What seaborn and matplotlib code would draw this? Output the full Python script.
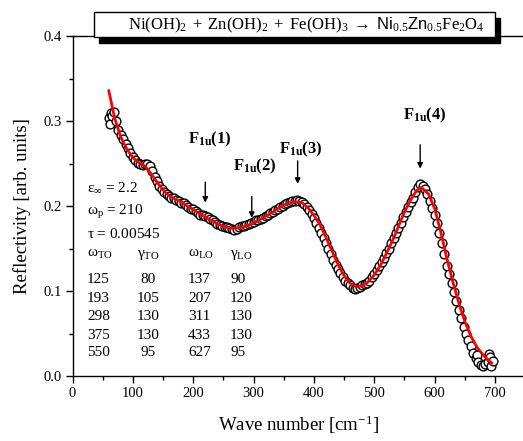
import matplotlib
matplotlib.use("Agg")
import matplotlib.pyplot as plt
from matplotlib.patches import Rectangle
import seaborn as sns
import pandas as pd

# Measured reflectivity spectrum
wavenumber = [
    60, 62, 64, 66, 68, 72, 76, 80, 84, 88, 92, 96, 100, 104, 108, 112, 116, 120,
    124, 128, 132, 136, 140, 144, 148, 152, 156, 160, 164, 168, 172, 176, 180,
    184, 188, 192, 196, 200, 204, 208, 212, 216, 220, 224, 228, 232, 236, 240,
    244, 248, 252, 256, 260, 264, 268, 272, 276, 280, 284, 288, 292, 296, 300,
    304, 308, 312, 316, 320, 324, 328, 332, 336, 340, 344, 348, 352, 356, 360,
    364, 368, 372, 376, 380, 384, 388, 392, 396, 400, 404, 408, 412, 416, 420,
    424, 428, 432, 436, 440, 444, 448, 452, 456, 460, 464, 468, 472, 476, 480,
    484, 488, 492, 496, 500, 504, 508, 512, 516, 520, 524, 528, 532, 536, 540,
    544, 548, 552, 556, 560, 564, 568, 572, 576, 580, 584, 588, 592, 596, 600,
    604, 608, 612, 616, 620, 624, 628, 632, 636, 640, 644, 648, 652, 656, 660,
    664, 668, 670, 672, 676, 680, 684, 688, 690, 692, 694, 696,
]
reflectivity = [
    0.303, 0.296, 0.310, 0.306, 0.311, 0.300, 0.290, 0.284, 0.279, 0.273, 0.268,
    0.262, 0.258, 0.254, 0.251, 0.249, 0.248, 0.249, 0.250, 0.247, 0.241, 0.234,
    0.229, 0.224, 0.220, 0.217, 0.214, 0.212, 0.210, 0.209, 0.207, 0.206, 0.204,
    0.203, 0.201, 0.199, 0.197, 0.196, 0.194, 0.192, 0.190, 0.189, 0.188, 0.187,
    0.185, 0.183, 0.181, 0.179, 0.178, 0.176, 0.175, 0.175, 0.174, 0.173, 0.172,
    0.173, 0.175, 0.176, 0.177, 0.178, 0.179, 0.180, 0.181, 0.183, 0.184, 0.185,
    0.186, 0.188, 0.190, 0.192, 0.193, 0.195, 0.197, 0.199, 0.200, 0.202, 0.203,
    0.205, 0.206, 0.206, 0.207, 0.206, 0.205, 0.202, 0.199, 0.195, 0.191, 0.186,
    0.180, 0.174, 0.168, 0.162, 0.156, 0.149, 0.143, 0.137, 0.131, 0.126, 0.121,
    0.116, 0.112, 0.109, 0.107, 0.104, 0.102, 0.103, 0.105, 0.107, 0.108, 0.110,
    0.112, 0.116, 0.120, 0.125, 0.129, 0.134, 0.139, 0.145, 0.150, 0.156, 0.162,
    0.168, 0.174, 0.180, 0.187, 0.193, 0.199, 0.205, 0.210, 0.216, 0.222, 0.226,
    0.224, 0.220, 0.214, 0.206, 0.198, 0.190, 0.180, 0.168, 0.156, 0.143, 0.130,
    0.120, 0.110, 0.099, 0.088, 0.078, 0.068, 0.058, 0.050, 0.042, 0.035, 0.027,
    0.021, 0.025, 0.017, 0.013, 0.012, 0.014, 0.016, 0.026, 0.022, 0.012, 0.018,
]

# Dielectric-function fit
fit_wavenumber = [
    60, 70, 80, 90, 100, 110, 120, 130, 140, 150, 160, 170, 180, 190, 200, 210,
    220, 230, 240, 250, 260, 270, 280, 290, 300, 310, 320, 330, 340, 350, 360,
    370, 380, 390, 400, 410, 420, 430, 440, 450, 460, 470, 480, 490, 500, 510,
    520, 530, 540, 550, 560, 570, 578, 590, 600, 610, 620, 630, 640, 650, 660,
    670, 680, 690, 695,
]
fit_reflectivity = [
    0.336, 0.303, 0.281, 0.267, 0.257, 0.251, 0.247, 0.238, 0.228, 0.219, 0.212,
    0.208, 0.205, 0.200, 0.196, 0.191, 0.187, 0.183, 0.179, 0.176, 0.174, 0.174,
    0.175, 0.177, 0.180, 0.184, 0.188, 0.192, 0.197, 0.201, 0.204, 0.205, 0.204,
    0.198, 0.189, 0.178, 0.163, 0.147, 0.131, 0.118, 0.109, 0.105, 0.106, 0.111,
    0.119, 0.130, 0.144, 0.159, 0.176, 0.193, 0.207, 0.218, 0.222, 0.214, 0.197,
    0.170, 0.139, 0.111, 0.086, 0.064, 0.047, 0.034, 0.025, 0.018, 0.015,
]

# Phonon mode markers: label, arrow position, arrow tip, arrow tail, label anchor
mode_labels = ["(1)", "(2)", "(3)", "(4)"]
mode_x = [220, 297, 373, 576]
mode_tip = [0.204, 0.186, 0.226, 0.244]
mode_tail = [0.228, 0.211, 0.253, 0.272]
label_x = [191, 266, 342, 548]
label_y = [0.274, 0.242, 0.262, 0.302]

# Fit parameters
eps_inf = 2.2
omega_p = 210
tau = 0.00545
omega_to = [125, 193, 298, 375, 550]
gamma_to = [80, 105, 130, 130, 95]
omega_lo = [137, 207, 311, 433, 627]
gamma_lo = [90, 120, 130, 130, 95]

sns.set_theme(style="ticks")
plt.rcParams.update({
    "font.family": ["Liberation Serif", "DejaVu Serif"],
    "mathtext.fontset": "custom",
    "mathtext.rm": "Liberation Serif",
    "mathtext.it": "Liberation Serif",
    "mathtext.bf": "Liberation Serif:bold",
    "mathtext.sf": "Liberation Sans",
    "axes.edgecolor": "black",
    "axes.linewidth": 1.0,
    "xtick.color": "black",
    "ytick.color": "black",
    "text.color": "black",
    "axes.labelcolor": "black",
})

fig = plt.figure(figsize=(5.23, 4.41), dpi=100)
ax = fig.add_axes([72.5 / 523, 1 - 376 / 441, 452.7 / 523, 340 / 441])

data = pd.DataFrame({"w": wavenumber, "R": reflectivity})
fit = pd.DataFrame({"w": fit_wavenumber, "R": fit_reflectivity})

sns.scatterplot(data=data, x="w", y="R", ax=ax, marker="o", s=40,
                facecolor="white", edgecolor="black", linewidth=1.0, zorder=2)
sns.lineplot(data=fit, x="w", y="R", ax=ax, color="#ff0000", lw=2.0,
             sort=False, zorder=3)

ax.set_xlim(0, 750)
ax.set_ylim(0, 0.4)
ax.set_xticks([0, 100, 200, 300, 400, 500, 600, 700])
ax.set_xticks(range(50, 750, 100), minor=True)
ax.set_yticks([0.0, 0.1, 0.2, 0.3, 0.4])
ax.set_yticklabels(["0.0", "0.1", "0.2", "0.3", "0.4"])
ax.set_yticks([0.05, 0.15, 0.25, 0.35], minor=True)
ax.tick_params(which="major", direction="out", length=5, width=1.0,
               labelsize=10.5, pad=3)
ax.tick_params(which="minor", direction="out", length=3, width=1.0)
ax.tick_params(top=False, right=False)
for side in ("top", "right", "left", "bottom"):
    ax.spines[side].set_visible(True)

ax.set_xlabel(r"Wave number [cm$^{\mathregular{-1}}$]", fontsize=13.5, labelpad=10)
ax.set_ylabel("Reflectivity [arb. units]", fontsize=13.5, labelpad=9)

# Mode arrows and labels
for lab, x, tip, tail, lx, ly in zip(mode_labels, mode_x, mode_tip, mode_tail,
                                     label_x, label_y):
    ax.annotate("", xy=(x, tip), xytext=(x, tail),
                arrowprops=dict(arrowstyle="-|>", color="black", lw=1.0,
                                mutation_scale=8, shrinkA=0, shrinkB=0))
    ax.text(lx, ly, r"$\mathbf{F_{1u}%s}$" % lab, fontsize=12,
            ha="left", va="baseline")

# Parameter table
fs = 11
ax.text(24, 0.2165, r"$\varepsilon_{\infty}$ = %.1f" % eps_inf, fontsize=fs, va="baseline")
ax.text(24, 0.189, r"$\omega_{\mathrm{p}}$ = %d" % omega_p, fontsize=fs, va="baseline")
ax.text(24, 0.162, r"$\tau$ = %s" % tau, fontsize=fs, va="baseline")
ax.text(24, 0.140, r"$\omega_{\mathrm{TO}}$", fontsize=fs, va="baseline")
ax.text(125, 0.140, r"$\gamma_{\mathrm{TO}}$", fontsize=fs, va="baseline", ha="center")
ax.text(191.5, 0.140, r"$\omega_{\mathrm{LO}}$", fontsize=fs, va="baseline")
ax.text(261, 0.140, r"$\gamma_{\mathrm{LO}}$", fontsize=fs, va="baseline")
row_y = [0.109, 0.087, 0.066, 0.0435, 0.0235]
for y, a, b, c, d in zip(row_y, omega_to, gamma_to, omega_lo, gamma_lo):
    ax.text(24, y, str(a), fontsize=fs, va="baseline")
    ax.text(125, y, str(b), fontsize=fs, va="baseline", ha="center")
    ax.text(191.5, y, str(c), fontsize=fs, va="baseline")
    ax.text(261, y, str(d), fontsize=fs, va="baseline")

# Reaction header box with drop shadow
W, H = 523.0, 441.0
fig.patches.append(Rectangle((99 / W, 1 - 43 / H), 401 / W, 25 / H,
                             transform=fig.transFigure, facecolor="black",
                             edgecolor="black", zorder=5))
fig.patches.append(Rectangle((94 / W, 1 - 37 / H), 401 / W, 25 / H,
                             transform=fig.transFigure, facecolor="white",
                             edgecolor="black", lw=1.0, zorder=6))
fig.text(306 / W, 1 - 25 / H,
         r"$\mathrm{Ni(OH)_2}\;+\;\mathrm{Zn(OH)_2}\;+\;\mathrm{Fe(OH)_3}"
         r"\;\rightarrow\;\mathsf{Ni}_{0.5}\mathsf{Zn}_{0.5}\mathrm{Fe_2O_4}$",
         fontsize=12, ha="center", va="center", zorder=7)

fig.savefig("out.png", dpi=100)
